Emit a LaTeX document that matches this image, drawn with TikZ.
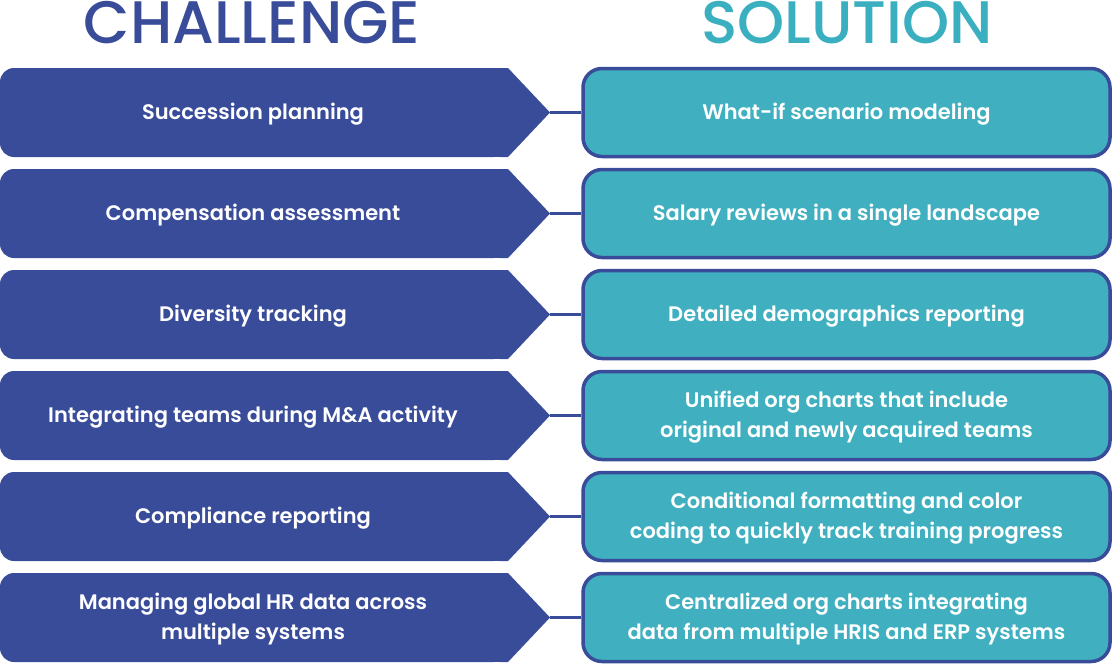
\documentclass[tikz,border=0pt]{standalone}
\usepackage{fontspec}
\setmainfont{Poppins}[BoldFont={* SemiBold}]
\newfontfamily\titlefont{Poppins}[UprightFont={* Medium}]
\definecolor{cblue}{HTML}{394C99}
\definecolor{cteal}{HTML}{40B0C0}
\definecolor{tteal}{HTML}{3AAFC0}
\begin{document}
\begin{tikzpicture}[x=1pt,y=-1pt,
  titlestyle/.style={font=\titlefont\fontsize{60}{66}\selectfont,inner sep=0pt},
  chtext/.style={text=white,font=\fontsize{21}{30}\selectfont\bfseries,align=center,inner sep=0pt},
  solbox/.style={draw=cblue,line width=3.5pt,fill=cteal,rounded corners=19pt,
    minimum width=527pt,minimum height=88pt,inner sep=0pt,text=white,
    font=\fontsize{21}{30}\selectfont\bfseries,align=center,
    text depth=-2pt},
  link/.style={draw=cblue,line width=3.5pt}]
\useasboundingbox (0,0) rectangle (1113,664);
\node[titlestyle,text=cblue] (tc) at (252,23) {CHALLENGE};
\node[titlestyle,text=tteal] (ts) at (847,23) {SOLUTION};
\foreach \i/\ct/\st in {
  1/{Succession planning}/{What-if scenario modeling},
  2/{Compensation assessment}/{Salary reviews in a single landscape},
  3/{Diversity tracking}/{Detailed demographics reporting},
  4/{Integrating teams during M\&A activity}/{Unified org charts that include\\original and newly acquired teams},
  5/{Compliance reporting}/{Conditional formatting and color\\coding to quickly track training progress},
  6/{Managing global HR data across\\multiple systems}/{Centralized org charts integrating\\data from multiple HRIS and ERP systems}}{
  \pgfmathsetmacro{\yc}{112.5+101*(\i-1)}
  \pgfmathsetmacro{\yt}{\yc-44.5}
  \pgfmathsetmacro{\yb}{\yc+44.5}
  \fill[cblue,rounded corners=14pt] (0,\yt) rectangle (508,\yb);
  \fill[cblue] (30,\yt) rectangle (508,\yb);
  \fill[cblue] (500,\yt) -- (508,\yt) -- (550,\yc) -- (508,\yb) -- (500,\yb) -- cycle;
  \node[chtext] (c\i) at (253,\yc+1.5) {\ct};
  \coordinate (p\i) at (550,\yc);
  \node[solbox] (s\i) at (846.5,\yc) {};
  \node[chtext] (st\i) at (846.5,\yc+2) {\st};
  \draw[link] (p\i) -- (s\i.west);
}
\end{tikzpicture}
\end{document}
